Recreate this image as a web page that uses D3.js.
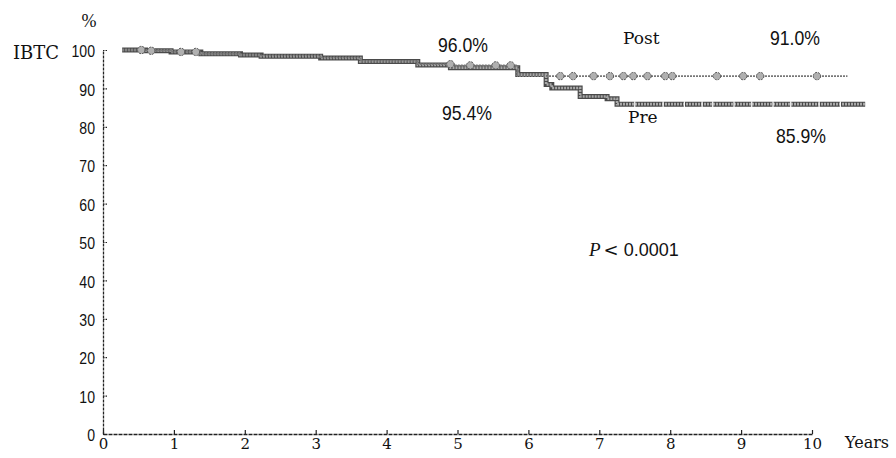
<!DOCTYPE html>
<html>
<head>
<meta charset="utf-8">
<script src="https://cdn.jsdelivr.net/npm/d3@7"></script>
<style>
  html, body { margin: 0; padding: 0; background: #fff; }
  svg { display: block; }
</style>
</head>
<body>
<svg id="chart" width="896" height="458"></svg>
<script>
// Kaplan–Meier style step curves: IBTC-free rate by year, Pre vs Post
const preTimes = [0.27, 0.6, 0.96, 1.38, 1.94, 2.23, 3.07, 3.63, 4.44, 4.9, 5.85, 6.25, 6.33, 6.73, 7.11, 7.25, 10.75];
const preSurv  = [100, 99.8, 99.5, 99.0, 98.7, 98.4, 97.9, 97.0, 96.1, 95.4, 93.6, 91.0, 90.1, 87.9, 87.3, 85.9, 85.9];

const postTimes = [0.27, 0.6, 0.96, 1.38, 1.94, 2.23, 3.07, 3.63, 4.44, 4.95, 5.85, 10.5];
const postSurv  = [100, 99.8, 99.5, 99.0, 98.7, 98.5, 98.0, 97.2, 96.3, 96.0, 93.2, 93.2];

// censored observations
const postCensor = [0.54, 0.68, 1.1, 1.31, 4.9, 5.18, 5.54, 5.75, 6.45, 6.63, 6.92, 7.15, 7.34, 7.48, 7.68, 7.93, 8.03, 8.66, 9.03, 9.27, 10.07];
const preCensor  = [7.5, 7.9, 8.2, 8.45, 8.6, 8.9, 9.15, 9.45, 9.7, 10.1, 10.4];

const xTicks = [0, 1, 2, 3, 4, 5, 6, 7, 8, 9, 10];
const yTicks = [0, 10, 20, 30, 40, 50, 60, 70, 80, 90, 100];

// rates quoted at 5 and 10 years
const rateLabels = ["96.0%", "95.4%", "91.0%", "85.9%"];
const groupLabels = ["Post", "Pre"];
const pLabel = "0.0001";

const svg = d3.select("#chart");
const x = d3.scaleLinear().domain([0, 10]).range([103, 812]);
const y = d3.scaleLinear().domain([0, 100]).range([434, 50]);

const serif = "'DejaVu Serif', serif";
const serif2 = "'Liberation Serif', 'Times New Roman', serif";
const sans = "'Liberation Sans', Arial, sans-serif";

function condense(sel, k) {
  sel.each(function () {
    const w = this.getComputedTextLength();
    d3.select(this).attr("textLength", w * k).attr("lengthAdjust", "spacingAndGlyphs");
  });
}

// axes
const yAxis = d3.axisLeft(y).tickValues(yTicks).tickSizeInner(-4).tickSizeOuter(0).tickPadding(8);
const gy = svg.append("g").attr("transform", `translate(${x(0)},0)`).call(yAxis);
gy.select(".domain").attr("stroke", "#222").attr("stroke-width", 1.3).attr("stroke-dasharray", "3,1");
gy.selectAll(".tick line").attr("stroke", "#222").attr("stroke-width", 1.2).attr("stroke-dasharray", "1.5,1");
gy.selectAll(".tick text")
  .attr("font-family", sans).attr("font-size", 16).attr("fill", "#111")
  .attr("dy", "0.42em")
  .call(condense, 0.88);

const xAxis = d3.axisBottom(x).tickValues(xTicks).tickSizeInner(-4).tickSizeOuter(0).tickPadding(4);
const gx = svg.append("g").attr("transform", `translate(0,${y(0)})`).call(xAxis);
gx.select(".domain").attr("stroke", "#222").attr("stroke-width", 1.3).attr("stroke-dasharray", "4,1");
gx.selectAll(".tick line").attr("stroke", "#222").attr("stroke-width", 1.2);
gx.selectAll(".tick text")
  .attr("font-family", serif).attr("font-size", 15).attr("fill", "#111");

// axis titles
svg.append("text").attr("x", 89).attr("y", 27).attr("text-anchor", "middle")
  .attr("font-family", serif2).attr("font-size", 18).attr("fill", "#111").text("%");
svg.append("text").attr("x", 13).attr("y", 59)
  .attr("font-family", serif).attr("font-size", 18).attr("fill", "#111").text("IBTC");
svg.append("text").attr("x", 845).attr("y", 448)
  .attr("font-family", serif).attr("font-size", 16).attr("fill", "#111").text("Years");

// step curves
const stepLine = d3.line().x(d => x(d[0])).y(d => y(d[1])).curve(d3.curveStepAfter);
const preData = preTimes.map((t, i) => [t, preSurv[i]]);
const postData = postTimes.map((t, i) => [t, postSurv[i]]);

svg.append("path").attr("d", stepLine(preData)).attr("fill", "none")
  .attr("stroke", "#4a4a4a").attr("stroke-width", 5);
svg.append("path").attr("d", stepLine(preData)).attr("fill", "none")
  .attr("stroke", "#a8a8a8").attr("stroke-width", 2.6).attr("stroke-dasharray", "2,1");

svg.append("path").attr("d", stepLine(postData)).attr("fill", "none")
  .attr("stroke", "#777").attr("stroke-width", 1.6).attr("stroke-dasharray", "2,1");

// survival value at time t for a step series
function valueAt(times, surv, t) {
  let v = surv[0];
  for (let i = 0; i < times.length; i++) if (times[i] <= t) v = surv[i];
  return v;
}

svg.append("g").selectAll("line").data(preCensor).join("line")
  .attr("x1", d => x(d)).attr("x2", d => x(d))
  .attr("y1", d => y(valueAt(preTimes, preSurv, d)) - 3)
  .attr("y2", d => y(valueAt(preTimes, preSurv, d)) + 3)
  .attr("stroke", "#fff").attr("stroke-width", 1.2);

svg.append("g").selectAll("circle").data(postCensor).join("circle")
  .attr("cx", d => x(d)).attr("cy", d => y(valueAt(postTimes, postSurv, d)))
  .attr("r", 3.7).attr("fill", "#b0b0b0").attr("stroke", "#555").attr("stroke-width", 1)
  .attr("stroke-dasharray", "2,1");

// annotations
function rateText(str, xs, ys) {
  svg.append("text").attr("x", xs).attr("y", ys).attr("text-anchor", "middle")
    .attr("font-family", sans).attr("font-size", 21).attr("fill", "#111").text(str)
    .call(condense, 0.84);
}
rateText(rateLabels[0], 463, 52);
rateText(rateLabels[1], 467, 120);
rateText(rateLabels[2], 795, 45);
rateText(rateLabels[3], 801, 143);

svg.append("text").attr("x", 623).attr("y", 44)
  .attr("font-family", serif).attr("font-size", 17).attr("fill", "#111").text(groupLabels[0]);
svg.append("text").attr("x", 628).attr("y", 123)
  .attr("font-family", serif).attr("font-size", 17).attr("fill", "#111").text(groupLabels[1]);

const pt = svg.append("text").attr("x", 589).attr("y", 256).attr("fill", "#111");
pt.append("tspan").attr("font-family", serif2).attr("font-style", "italic").attr("font-size", 19).text("P");
pt.append("tspan").attr("font-family", "'DejaVu Sans', sans-serif").attr("font-size", 18).attr("dx", 3).text("<");
pt.append("tspan").attr("font-family", sans).attr("font-size", 18).attr("dx", 5).text(pLabel);
</script>
</body>
</html>
